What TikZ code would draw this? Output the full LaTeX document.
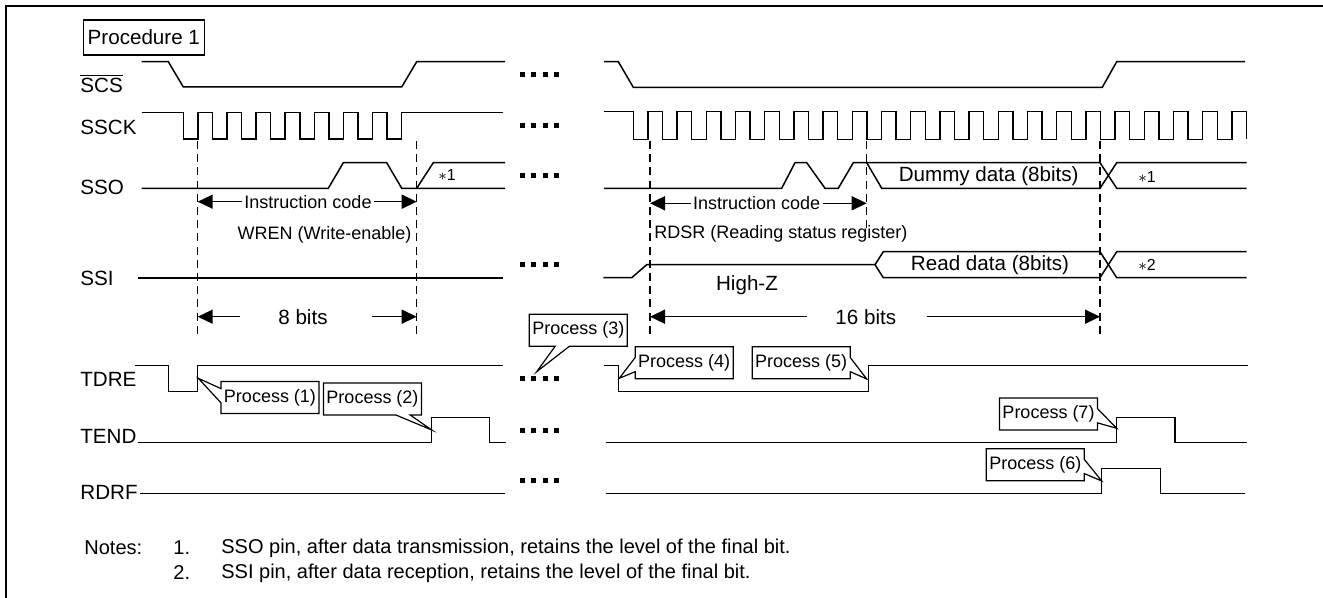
\documentclass[tikz,border=0pt]{standalone}
\usepackage{fontspec}
\setmainfont{Liberation Sans}
\usetikzlibrary{arrows.meta,shapes.callouts}

\begin{document}
\begin{tikzpicture}[x=0.5pt,y=-0.5pt,
    sig/.style={line width=0.75pt},
    guide/.style={line width=0.6pt,dash pattern=on 4pt off 2.6pt},
    dim/.style={line width=0.75pt,-{Triangle[length=7.5pt,width=7pt]}},
    lbl/.style={font=\fontsize{10.3}{12}\selectfont,inner sep=0pt},
    note/.style={font=\fontsize{9}{11}\selectfont,inner sep=0pt},
    proc/.style={rectangle callout,draw,line width=0.6pt,fill=white,
      font=\fontsize{9}{11}\selectfont,inner xsep=1.5pt,inner ysep=0pt,minimum height=16pt}]

  \useasboundingbox (0,0) rectangle (1323,598);
  \draw[line width=1pt] (6,598) -- (6,6) -- (1323,6);

  \node[draw,line width=0.6pt,lbl,inner xsep=2.2pt,minimum height=17.5pt,anchor=west] (proc1) at (82.7,37.5) {Procedure 1};

  \node[lbl,anchor=west] (scs)  at (80,83)  {$\overline{\mbox{SCS}}$};
  \node[lbl,anchor=west] (ssck) at (80,127) {SSCK};
  \node[lbl,anchor=west] (sso)  at (80,187) {SSO};
  \node[lbl,anchor=west] (ssi)  at (80,278) {SSI};
  \node[lbl,anchor=west] (tdre) at (80,379) {TDRE};
  \node[lbl,anchor=west] (tend) at (80,436) {TEND};
  \node[lbl,anchor=west] (rdrf) at (80,492) {RDRF};

  \draw[guide] (197.7,141) -- (197.7,338);
  \draw[guide] (416.7,141) -- (416.7,338);
  \draw[guide] (650,141) -- (650,338);
  \draw[guide] (866.7,141) -- (866.7,232);
  \draw[guide] (1100,141) -- (1100,338);

  \draw[sig] (141.7,61.7) -- (168.3,61.7) -- (183.3,87) -- (401.7,87) -- (416.7,61.7) -- (505,61.7);
  \draw[sig] (604,61.7) -- (618.3,61.7) -- (633.3,87.3) -- (1102.3,87.3) -- (1116.7,61.7) -- (1245,61.7);

  \draw[sig] (141.7,112.5) -- (183.3,112.5)
    foreach \k in {1,...,8} {-- ++(0,26.5) -- ++(14.56,0) -- ++(0,-26.5) -- ++(14.56,0)} -- (503,112.5);
  \draw[sig] (604,111.7) -- (633.3,111.7)
    foreach \k in {1,...,21} {-- ++(0,27.6) -- ++(14.6,0) -- ++(0,-27.6) -- ++(14.6,0)} -- ++(0,27.6);

  \draw[sig] (141.7,188.3) -- (328.3,188.3) -- (343.3,162.7) -- (386.7,162.7) -- (401.7,188.3) -- (505,188.3);
  \draw[sig] (416.7,188.3) -- (433.3,162.7) -- (505,162.7);
  \draw[sig] (604,188.3) -- (781.7,188.3) -- (795,162.7) -- (806.7,162.7) -- (825,188.3) -- (838.3,188.3)
    -- (853.3,162.7) -- (1100,162.7) -- (1116.7,188.3) -- (1246.7,188.3);
  \draw[sig] (866.7,162.7) -- (881.7,188.3) -- (1100,188.3) -- (1116.7,162.7) -- (1246.7,162.7);

  \draw[sig] (138.3,278) -- (503.3,278);
  \draw[sig] (603.3,277.7) -- (631.7,277.7) -- (646.7,264.7) -- (875,264.7) -- (883.3,251.7) -- (1100,251.7)
    -- (1116.7,277.7) -- (1246.7,277.7);
  \draw[sig] (875,264.7) -- (883.3,277.7) -- (1100,277.7) -- (1116.7,251.7) -- (1246.7,251.7);

  \draw[sig] (135,365.7) -- (168.3,365.7) -- (168.3,391.7) -- (197.7,391.7) -- (197.7,365.7) -- (503.3,365.7);
  \draw[sig] (604,365.7) -- (618.3,365.7) -- (618.3,391.7) -- (868.3,391.7) -- (868.3,365.7) -- (1248,365.7);

  \draw[sig] (138,442.7) -- (431.7,442.7) -- (431.7,417.3) -- (489.5,417.3) -- (489.5,442.7) -- (505.5,442.7);
  \draw[sig] (605.5,442.7) -- (1116.7,442.7) -- (1116.7,417.3) -- (1175,417.3) -- (1175,442.7) -- (1246.7,442.7);

  \draw[sig] (140,493.7) -- (505,493.7);
  \draw[sig] (605.5,493.7) -- (1101.7,493.7) -- (1101.7,468.3) -- (1160.7,468.3) -- (1160.7,493.7) -- (1245,493.7);

  \foreach \y in {74.5,125.5,175.5,265,379,431,481}
    \foreach \x in {520,531.3,542.7,554}
      \fill (\x,\y-2.5) rectangle +(5,5);

  \node[lbl] (dummy) at (988.7,176) {Dummy data (8bits)};
  \node[lbl] (rdata) at (990,265) {Read data (8bits)};
  \node[font=\fontsize{8}{9}\selectfont,inner sep=0pt] (astA) at (447,175) {$\ast$1};
  \node[font=\fontsize{8}{9}\selectfont,inner sep=0pt] (astB) at (1147,176.7) {$\ast$1};
  \node[font=\fontsize{8}{9}\selectfont,inner sep=0pt] (astC) at (1147,265) {$\ast$2};
  \node[lbl] (hiz) at (747,285) {High-Z};

  \coordinate (icAl) at (197.7,201.7);
  \coordinate (icAr) at (416.7,201.7);
  \coordinate (icBl) at (650,203.3);
  \coordinate (icBr) at (866.7,203.3);
  \node[note,inner xsep=1pt] (icA) at (308,201.7) {Instruction code};
  \node[note,inner xsep=1pt] (icB) at (756.7,203.3) {Instruction code};
  \draw[dim] (icA) -- (icAl);
  \draw[dim] (icA) -- (icAr);
  \draw[dim] (icB) -- (icBl);
  \draw[dim] (icB) -- (icBr);

  \node[note,anchor=east] (wren) at (411.7,235) {WREN (Write-enable)};
  \node[note,anchor=west] (rdsr) at (654,234) {RDSR (Reading status register)};

  \node[lbl] (b8) at (303,316.7) {8 bits};
  \coordinate (b8a) at (240,316.7);
  \coordinate (b8b) at (371.7,316.7);
  \coordinate (b8l) at (197.7,316.7);
  \coordinate (b8r) at (416.7,316.7);
  \draw[dim] (b8a) -- (b8l);
  \draw[dim] (b8b) -- (b8r);

  \node[lbl] (b16) at (865.8,316.7) {16 bits};
  \coordinate (b16a) at (806.7,316.7);
  \coordinate (b16b) at (926.7,316.7);
  \coordinate (b16l) at (650,316.7);
  \coordinate (b16r) at (1100,316.7);
  \draw[dim] (b16a) -- (b16l);
  \draw[dim] (b16b) -- (b16r);

  \coordinate (t1) at (198.3,378.3);
  \coordinate (t2) at (431.7,430);
  \coordinate (t3) at (536.7,371.7);
  \coordinate (t4) at (619.3,378.3);
  \coordinate (t5) at (866.7,379);
  \coordinate (t6) at (1101.7,481);
  \coordinate (t7) at (1116.7,428.3);
  \node[proc,callout absolute pointer={(t1)}] (p1) at (270,397.5) {Process (1)};
  \node[proc,callout absolute pointer={(t2)}] (p2) at (372.5,399) {Process (2)};
  \node[proc,callout absolute pointer={(t3)}] (p3) at (578.3,330.3) {Process (3)};
  \node[proc,callout absolute pointer={(t4)}] (p4) at (684.2,362.8) {Process (4)};
  \node[proc,callout absolute pointer={(t5)}] (p5) at (801.2,362.8) {Process (5)};
  \node[proc,callout absolute pointer={(t6)}] (p6) at (1035.3,464.7) {Process (6)};
  \node[proc,callout absolute pointer={(t7)}] (p7) at (1048.5,414) {Process (7)};

  \node[font=\fontsize{10}{12}\selectfont,inner sep=0pt,anchor=west] (notes) at (84,548) {Notes:};
  \node[font=\fontsize{10}{12}\selectfont,inner sep=0pt,anchor=west] (n1) at (173,548) {1.};
  \node[font=\fontsize{10}{12}\selectfont,inner sep=0pt,anchor=west] (n1t) at (221,548) {SSO pin, after data transmission, retains the level of the final bit.};
  \node[font=\fontsize{10}{12}\selectfont,inner sep=0pt,anchor=west] (n2) at (173,573) {2.};
  \node[font=\fontsize{10}{12}\selectfont,inner sep=0pt,anchor=west] (n2t) at (221,573) {SSI pin, after data reception, retains the level of the final bit.};
\end{tikzpicture}
\end{document}
